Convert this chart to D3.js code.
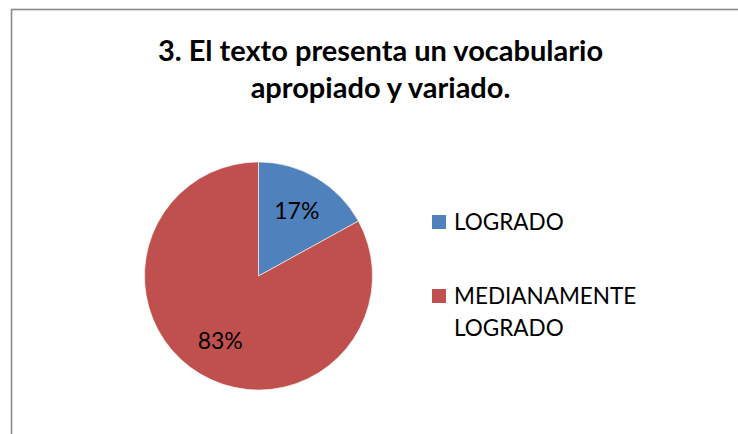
<!DOCTYPE html>
<html>
<head>
<meta charset="utf-8">
<script src="https://cdn.jsdelivr.net/npm/d3@7"></script>
<style>
  html, body { margin: 0; padding: 0; background: #fff; }
  svg { display: block; }
</style>
</head>
<body>
<svg id="chart" width="738" height="434"></svg>
<script>
// Chart data
const titleLines = ["3. El texto presenta un vocabulario", "apropiado y variado."];
const categories = ["LOGRADO", "MEDIANAMENTE LOGRADO"];
const legendLines = [["LOGRADO"], ["MEDIANAMENTE", "LOGRADO"]];
const values = [17, 83];
const colors = ["#4F81BD", "#C0504D"];

const svg = d3.select("#chart");
const font = "Lato, 'Open Sans', 'DejaVu Sans', sans-serif";

// Chart frame (extends past the right and bottom edges)
svg.append("rect")
  .attr("x", 11.5).attr("y", 9.5)
  .attr("width", 780).attr("height", 460)
  .attr("fill", "#fff")
  .attr("stroke", "#8a8a8a")
  .attr("stroke-width", 1.6);

// Title
const title = svg.append("g").attr("font-family", font)
  .attr("font-weight", "bold").attr("font-size", 29)
  .attr("fill", "#000").attr("text-anchor", "middle");
title.selectAll("text").data(titleLines).join("text")
  .attr("x", 380.5)
  .attr("y", (d, i) => 61 + i * 37)
  .text(d => d);

// Pie
const cx = 258.5, cy = 276, r = 114;
const pie = d3.pie().sort(null).value(d => d)
  .startAngle(0).endAngle(2 * Math.PI);
const arcs = pie(values);
const arc = d3.arc().innerRadius(0).outerRadius(r);
const labelArc = d3.arc().innerRadius(r * 0.66).outerRadius(r * 0.66);

const g = svg.append("g").attr("transform", `translate(${cx},${cy})`);
g.selectAll("path").data(arcs).join("path")
  .attr("d", arc)
  .attr("fill", (d, i) => colors[i])
  .attr("stroke", "#fff")
  .attr("stroke-width", 0.6);

const total = d3.sum(values);
g.selectAll("text").data(arcs).join("text")
  .attr("transform", d => `translate(${labelArc.centroid(d)})`)
  .attr("text-anchor", "middle")
  .attr("dy", "0.35em")
  .attr("font-family", font)
  .attr("font-size", 23)
  .attr("fill", "#000")
  .text(d => Math.round(d.data / total * 100) + "%");

// Legend
const legendY = [215, 289];
const legend = svg.append("g").attr("font-family", font).attr("font-size", 22.5).attr("fill", "#000");
const items = legend.selectAll("g").data(categories).join("g")
  .attr("transform", (d, i) => `translate(432,${legendY[i]})`);
items.append("rect")
  .attr("width", 14).attr("height", 14)
  .attr("fill", (d, i) => colors[i]);
items.append("text")
  .attr("x", 22)
  .attr("y", 15)
  .selectAll("tspan").data((d, i) => legendLines[i]).join("tspan")
  .attr("x", 22)
  .attr("dy", (d, j) => j === 0 ? 0 : 32)
  .text(d => d);
</script>
</body>
</html>
